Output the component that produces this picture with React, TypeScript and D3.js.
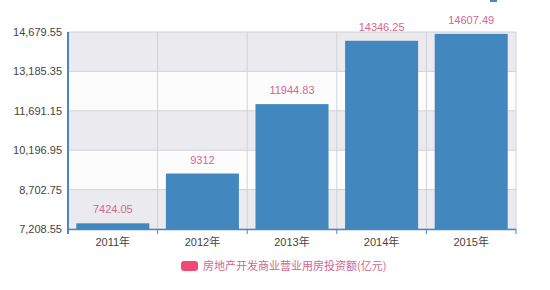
import React from "react";
import * as d3 from "d3";

const categories = ["2011年", "2012年", "2013年", "2014年", "2015年"];
const values = [7424.05, 9312, 11944.83, 14346.25, 14607.49];
const yTicks = [7208.55, 8702.75, 10196.95, 11691.15, 13185.35, 14679.55];
const seriesName = "房地产开发商业营业用房投资额(亿元)";

export default function App() {
  const W = 550, H = 290;
  const left = 68, right = 516, top = 32, bottom = 229;
  const x = d3.scaleBand<string>().domain(categories).range([left, right]).paddingInner(0).paddingOuter(0);
  const y = d3.scaleLinear().domain([yTicks[0], yTicks[yTicks.length - 1]]).range([bottom, top]);
  const bw = x.bandwidth() * 0.815;
  const fmt = d3.format(",.2f");
  const font = "'Liberation Sans', Arial, 'Noto Sans CJK SC', sans-serif";
  const barColor = "#4287bd";
  const labelColor = "#d4668e";
  return (
    <svg width={W} height={H} style={{ position: "absolute", left: 0, top: 0, background: "#fff" }} fontFamily={font}>
      <rect x={490} y={0} width={7} height={2} fill="#4a86c0" />
      {yTicks.slice(0, -1).map((t, i) => (
        <rect key={"b" + i} x={left} y={y(yTicks[i + 1])} width={right - left} height={y(t) - y(yTicks[i + 1])}
          fill={(yTicks.length - 2 - i) % 2 === 0 ? "#ebeaee" : "#fdfcfd"} />
      ))}
      {yTicks.map((t, i) => (
        <line key={"g" + i} x1={left} x2={right} y1={y(t)} y2={y(t)} stroke="#d2d2d6" strokeWidth={1} />
      ))}
      {categories.map((c, i) => (
        <line key={"v" + i} x1={(x(c) as number) + x.bandwidth()} x2={(x(c) as number) + x.bandwidth()} y1={top} y2={bottom} stroke="#d2d2d6" />
      ))}
      {categories.map((c, i) => {
        const cx = (x(c) as number) + x.bandwidth() / 2;
        return (
          <g key={"bar" + i}>
            <rect x={cx - bw / 2} y={y(values[i])} width={bw} height={bottom - y(values[i])} fill={barColor} />
            <text x={cx} y={y(values[i]) - 10} textAnchor="middle" fontSize={11} fill={labelColor}>{String(values[i])}</text>
            <text x={cx} y={bottom + 17} textAnchor="middle" fontSize={11} fill="#444">{c}</text>
          </g>
        );
      })}
      <line x1={left} x2={left} y1={top} y2={bottom + 5} stroke="#4a86c0" strokeWidth={2} />
      <line x1={left} x2={right} y1={bottom + 0.5} y2={bottom + 0.5} stroke="#4a86c0" strokeWidth={1.5} />
      {categories.map((c, i) => (
        <line key={"t" + i} x1={(x(c) as number) + x.bandwidth()} x2={(x(c) as number) + x.bandwidth()} y1={bottom} y2={bottom + 5} stroke="#4a86c0" />
      ))}
      {yTicks.map((t, i) => (
        <text key={"yl" + i} x={left - 6} y={y(t) + 4} textAnchor="end" fontSize={11} fill="#444">{fmt(t)}</text>
      ))}
      <rect x={181} y={261} width={17} height={10} rx={3} fill="#ef4a76" />
      <text x={203} y={270} fontSize={11} fill={labelColor} fontFamily="'Noto Sans CJK SC', sans-serif">{seriesName}</text>
    </svg>
  );
}
